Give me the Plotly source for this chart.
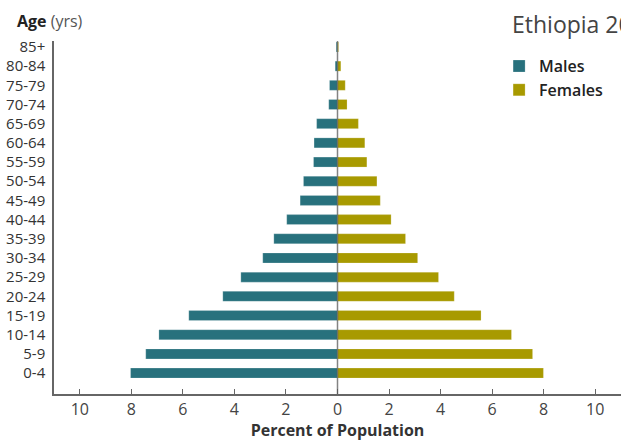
import plotly.graph_objects as go

ages = ["0-4", "5-9", "10-14", "15-19", "20-24", "25-29", "30-34", "35-39",
        "40-44", "45-49", "50-54", "55-59", "60-64", "65-69", "70-74",
        "75-79", "80-84", "85+"]
males = [8.03, 7.44, 6.93, 5.77, 4.45, 3.75, 2.90, 2.47, 1.97, 1.45, 1.32,
         0.93, 0.91, 0.81, 0.34, 0.31, 0.09, 0.05]
females = [7.99, 7.57, 6.75, 5.57, 4.53, 3.92, 3.11, 2.64, 2.08, 1.66, 1.53,
           1.14, 1.06, 0.81, 0.37, 0.30, 0.13, 0.04]
tick_vals = [-10, -8, -6, -4, -2, 0, 2, 4, 6, 8, 10]
tick_text = ["10", "8", "6", "4", "2", "0", "2", "4", "6", "8", "10"]

MALE_COLOR = "#28717d"
FEMALE_COLOR = "#a89a00"
FONT = "Open Sans"

fig = go.Figure()
fig.add_trace(go.Bar(
    y=ages, x=[-v for v in males], orientation="h", name="Males",
    marker=dict(color=MALE_COLOR, line=dict(color="rgba(255,255,255,0.35)", width=0.6)),
    customdata=males, hovertemplate="%{y}: %{customdata}%<extra>Males</extra>",
))
fig.add_trace(go.Bar(
    y=ages, x=females, orientation="h", name="Females",
    marker=dict(color=FEMALE_COLOR, line=dict(color="rgba(255,255,255,0.35)", width=0.6)),
    hovertemplate="%{y}: %{x}%<extra>Females</extra>",
))

fig.update_layout(
    width=621, height=441,
    margin=dict(l=54, r=0, t=41, b=47, autoexpand=False),
    barmode="overlay", bargap=0.48,
    plot_bgcolor="white", paper_bgcolor="white",
    font=dict(family=FONT, color="#444"),
    showlegend=True,
    legend=dict(
        x=0.785, y=0.977, xanchor="left", yanchor="top",
        font=dict(family=FONT, size=16, color="#222", weight=600),
        bgcolor="rgba(0,0,0,0)", traceorder="normal",
        itemclick=False, itemdoubleclick=False,
    ),
    xaxis=dict(
        range=[-11, 11], tickvals=tick_vals, ticktext=tick_text,
        ticks="inside", ticklen=5, tickwidth=1.2, tickcolor="#666",
        showline=True, linecolor="#666", linewidth=1.5,
        showgrid=False, zeroline=False, automargin=False,
        tickfont=dict(family=FONT, size=16, color="#444"),
        title=dict(text="<b>Percent of Population</b>",
                   font=dict(family=FONT, size=16, color="#333"), standoff=3),
        fixedrange=True,
    ),
    yaxis=dict(
        type="category", categoryorder="array", categoryarray=ages,
        range=[-1.09, 17.31],
        showline=True, linecolor="#666", linewidth=1.5,
        showgrid=False, zeroline=False, ticks="", automargin=False,
        tickfont=dict(family=FONT, size=15, color="#333"),
        ticklabelstandoff=4, fixedrange=True,
    ),
    shapes=[dict(type="line", xref="x", yref="paper", x0=0, x1=0, y0=0, y1=1,
                 line=dict(color="rgba(90,90,90,0.75)", width=1.5), layer="above")],
    annotations=[
        dict(text="<b>Age</b> <span style='color:#555'>(yrs)</span>",
             xref="paper", yref="paper", x=-0.069, y=1.057,
             xanchor="left", yanchor="middle", showarrow=False,
             font=dict(family=FONT, size=16, color="#222")),
        dict(text="Ethiopia 2020", xref="paper", yref="paper",
             x=0.804, y=1.048, xanchor="left", yanchor="middle", showarrow=False,
             font=dict(family=FONT, size=23, color="#444")),
    ],
)

fig.write_html("out.html", config={"displayModeBar": False},
               post_script="document.body.style.margin='0';")
